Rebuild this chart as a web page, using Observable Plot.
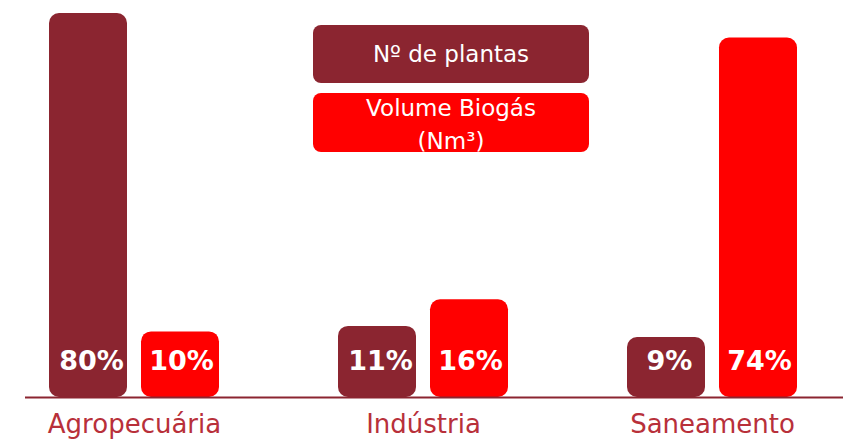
<!DOCTYPE html>
<html>
<head>
<meta charset="utf-8">
<script src="https://cdn.jsdelivr.net/npm/d3@7"></script>
<script src="https://cdn.jsdelivr.net/npm/@observablehq/plot@0.6"></script>
<style>
  html, body { margin: 0; padding: 0; background: #fff; }
  #wrap { position: relative; width: 843px; height: 440px; font-family: "DejaVu Sans", sans-serif; }
  .key { position: absolute; left: 313px; width: 276px; border-radius: 8px; color: #fff;
         display: flex; align-items: center; justify-content: center; text-align: center;
         font-size: 23px; line-height: 33px; box-sizing: border-box; }
</style>
</head>
<body>
<div id="wrap"></div>
<script>
const categories = ["Agropecuária", "Indústria", "Saneamento"];
const seriesNames = ["Nº de plantas", "Volume Biogás (Nm³)"];
const plantas = [80, 11, 9];
const volumeBiogas = [10, 16, 74];
const colors = ["#8B2530", "#FF0000"];

const plantasData = categories.map((c, i) => ({category: c, series: seriesNames[0], value: plantas[i]}));
const volumeData = categories.map((c, i) => ({category: c, series: seriesNames[1], value: volumeBiogas[i]}));

const chart = Plot.plot({
  width: 843,
  height: 440,
  marginLeft: 25,
  marginRight: 0,
  marginTop: 13,
  marginBottom: 43,
  style: {fontFamily: "DejaVu Sans", fontSize: "26px", color: "#B8303A", background: "white"},
  x: {domain: categories, range: [25, 820], paddingInner: 0.413, paddingOuter: 0.0794,
      label: null, tickSize: 0, tickPadding: 17},
  // slightly compressed (power) scale so the small shares stay tall enough for their labels
  y: {type: "pow", exponent: 0.85, domain: [0, 80], axis: null},
  color: {domain: seriesNames, range: colors},
  marks: [
    Plot.barY(plantasData, {x: "category", y: "value", fill: "series", rx: 10, insetRight: 92}),
    Plot.barY(volumeData, {x: "category", y: "value", fill: "series", rx: 10, insetLeft: 92}),
    Plot.ruleY([0], {stroke: "#8B2530", strokeWidth: 2}),
    Plot.text(plantasData, {x: "category", frameAnchor: "bottom", text: d => d.value + "%",
      dx: -43, dy: -28, fill: "white", fontWeight: "bold", fontSize: 27}),
    Plot.text(volumeData, {x: "category", frameAnchor: "bottom", text: d => d.value + "%",
      dx: 47, dy: -28, fill: "white", fontWeight: "bold", fontSize: 27})
  ]
});

const wrap = document.getElementById("wrap");
wrap.appendChild(chart);

const k1 = document.createElement("div");
k1.className = "key";
k1.style.top = "25px"; k1.style.height = "58px"; k1.style.background = colors[0];
k1.textContent = seriesNames[0];
wrap.appendChild(k1);

const k2 = document.createElement("div");
k2.className = "key";
k2.style.top = "93px"; k2.style.height = "59px"; k2.style.background = colors[1];
k2.style.paddingTop = "5px";
k2.innerHTML = "Volume Biogás<br>(Nm³)";
wrap.appendChild(k2);
</script>
</body>
</html>
